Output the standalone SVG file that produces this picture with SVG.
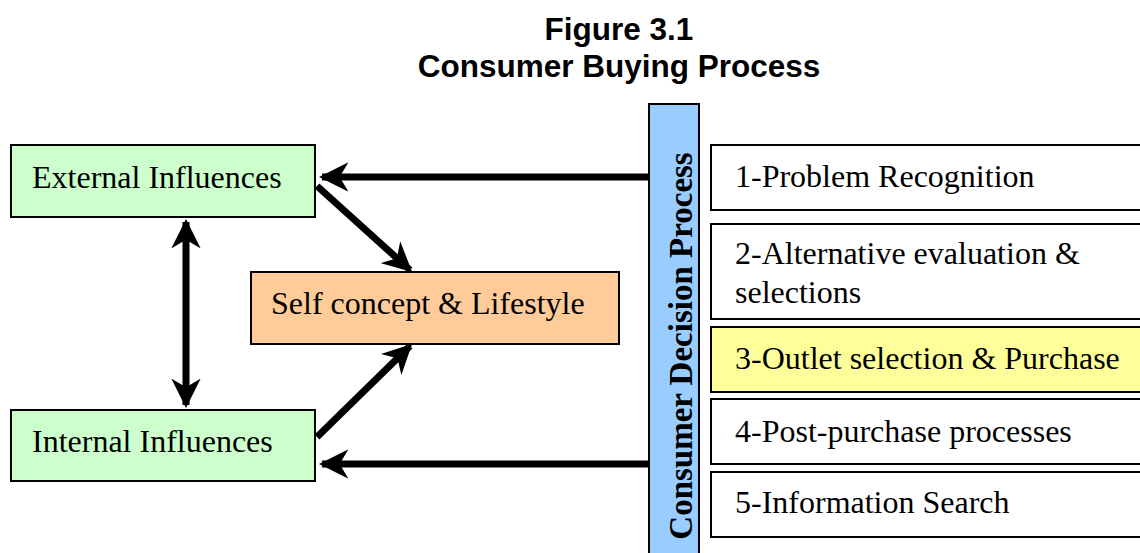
<svg xmlns="http://www.w3.org/2000/svg" width="1140" height="553" viewBox="0 0 1140 553">
<defs>
<marker id="ah" viewBox="0 0 10 10" refX="9" refY="5" markerWidth="4.2" markerHeight="4.2" markerUnits="strokeWidth" orient="auto-start-reverse">
<path d="M0,0 L10,5 L0,10 L3,5 Z" fill="#000"/>
</marker>
</defs>
<style>
.box{stroke:#000;stroke-width:2}
.t{font-family:"Liberation Serif","Times New Roman",serif;font-size:32px;fill:#000}
.title{font-family:"Liberation Sans",Arial,sans-serif;font-size:31.5px;font-weight:bold;fill:#000;text-anchor:middle}
.c{stroke:#000;stroke-width:7;fill:none}
</style>
<rect width="1140" height="553" fill="#fff"/>
<text class="title" x="619" y="40">Figure 3.1</text>
<text class="title" x="619" y="77">Consumer Buying Process</text>
<g id="connectors">
<line class="c" x1="650" y1="177" x2="322" y2="177" marker-end="url(#ah)"/>
<line class="c" x1="650" y1="464" x2="322" y2="464" marker-end="url(#ah)"/>
<line class="c" x1="317" y1="186" x2="410" y2="270" marker-end="url(#ah)"/>
<line class="c" x1="317" y1="437" x2="410" y2="346" marker-end="url(#ah)"/>
<line class="c" x1="186" y1="222" x2="186" y2="405" marker-start="url(#ah)" marker-end="url(#ah)"/>
</g>
<g id="external">
<rect class="box" x="11" y="145" width="304" height="72" fill="#ccffcc"/>
<text class="t" x="32" y="188">External Influences</text>
</g>
<g id="internal">
<rect class="box" x="11" y="410" width="304" height="71" fill="#ccffcc"/>
<text class="t" x="32" y="452">Internal Influences</text>
</g>
<g id="selfconcept">
<rect class="box" x="251" y="272" width="368" height="72" fill="#ffcc99"/>
<text class="t" x="271" y="314">Self concept &amp; Lifestyle</text>
</g>
<g id="process">
<rect class="box" x="649" y="104" width="50" height="460" fill="#99ccff"/>
<text x="0" y="0" transform="translate(692,346) rotate(-90)" style="font-family:'Liberation Serif','Times New Roman',serif;font-size:33px;font-weight:bold;text-anchor:middle">Consumer Decision Process</text>
</g>
<g id="step1">
<rect class="box" x="711" y="145" width="440" height="65" fill="#fff"/>
<text class="t" x="735" y="187">1-Problem Recognition</text>
</g>
<g id="step2">
<rect class="box" x="711" y="224" width="440" height="95" fill="#fff"/>
<text class="t" x="735" y="264">2-Alternative evaluation &amp;</text>
<text class="t" x="735" y="303">selections</text>
</g>
<g id="step3">
<rect class="box" x="711" y="327" width="440" height="65" fill="#ffff99"/>
<text class="t" x="735" y="369">3-Outlet selection &amp; Purchase</text>
</g>
<g id="step4">
<rect class="box" x="711" y="399" width="440" height="65" fill="#fff"/>
<text class="t" x="735" y="442">4-Post-purchase processes</text>
</g>
<g id="step5">
<rect class="box" x="711" y="472" width="440" height="65" fill="#fff"/>
<text class="t" x="735" y="513">5-Information Search</text>
</g>
</svg>
